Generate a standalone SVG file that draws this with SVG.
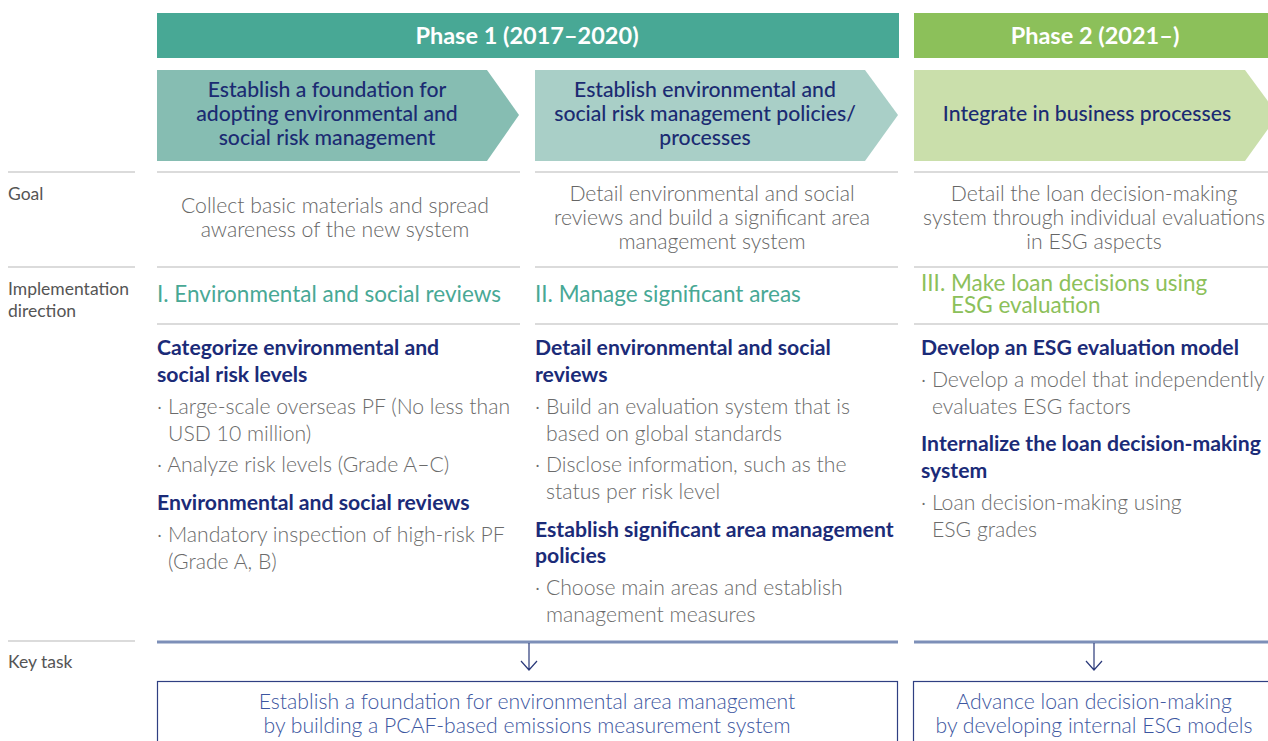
<svg xmlns="http://www.w3.org/2000/svg" width="1268" height="741" viewBox="0 0 1268 741">
<style>
text{font-family:"Lato","Liberation Sans",sans-serif}
.ph{fill:#fff;font-size:23.5px;font-weight:700;text-anchor:middle}
.ch{fill:#1b2b72;font-size:21.2px;font-weight:500;text-anchor:middle}
.lab{fill:#555;font-size:17.5px}
.goal{fill:#666;font-size:21.2px;font-weight:300;text-anchor:middle}
.dir1{fill:#48a895;font-size:22.5px}
.dir3{fill:#8cc05a;font-size:22.5px}
.hd{fill:#1b2b78;font-size:21.2px;font-weight:700}
.bl{fill:#6b6b6b;font-size:21.2px;font-weight:300}
.kt{fill:#3c56a0;font-size:21.2px;font-weight:300;text-anchor:middle}
.gl{stroke:#cfcfcf;stroke-width:1.5;fill:none}
.bx{fill:#fff;stroke:#2f3f82;stroke-width:1.2}
.ar{stroke:#2b3a7a;stroke-width:1.2;fill:none}
</style>
<rect width="1268" height="741" fill="#fff"/>

<g id="phase1">
<rect x="157" y="13" width="742" height="45" fill="#48a895"/>
<text class="ph" x="527" y="44">Phase 1 (2017–2020)</text>
</g>
<g id="phase2">
<rect x="914" y="13" width="354" height="45" fill="#8cc05a"/>
<text class="ph" x="1095" y="44">Phase 2 (2021–)</text>
</g>

<g id="stage1">
<polygon points="157,70 487,70 519,115 487,161 157,161" fill="#86bdb2"/>
<text class="ch" x="327" y="97">Establish a foundation for</text>
<text class="ch" x="327" y="121">adopting environmental and</text>
<text class="ch" x="327" y="145">social risk management</text>
</g>
<g id="stage2">
<polygon points="535,70 865,70 898,115 865,161 535,161" fill="#a9cfc7"/>
<text class="ch" x="705" y="97">Establish environmental and</text>
<text class="ch" x="705" y="121">social risk management policies/</text>
<text class="ch" x="705" y="145">processes</text>
</g>
<g id="stage3">
<polygon points="914,70 1245,70 1278,115 1245,161 914,161" fill="#cadfab"/>
<text class="ch" x="1087" y="121">Integrate in business processes</text>
</g>

<g id="gridlines">
<line class="gl" x1="8" y1="172" x2="135" y2="172"/>
<line class="gl" x1="157" y1="172" x2="520" y2="172"/>
<line class="gl" x1="535" y1="172" x2="898" y2="172"/>
<line class="gl" x1="914" y1="172" x2="1268" y2="172"/>
<line class="gl" x1="8" y1="267" x2="135" y2="267"/>
<line class="gl" x1="157" y1="267" x2="520" y2="267"/>
<line class="gl" x1="535" y1="267" x2="898" y2="267"/>
<line class="gl" x1="914" y1="267" x2="1268" y2="267"/>
<line class="gl" x1="157" y1="324" x2="520" y2="324"/>
<line class="gl" x1="535" y1="324" x2="898" y2="324"/>
<line class="gl" x1="914" y1="324" x2="1268" y2="324"/>
<line class="gl" x1="8" y1="641" x2="135" y2="641"/>
</g>

<g id="labels">
<text class="lab" x="8" y="200">Goal</text>
<text class="lab" x="8" y="295">Implementation</text>
<text class="lab" x="8" y="317">direction</text>
<text class="lab" x="8" y="668">Key task</text>
</g>

<g id="goal1">
<text class="goal" x="335" y="213">Collect basic materials and spread</text>
<text class="goal" x="335" y="237">awareness of the new system</text>
</g>
<g id="goal2">
<text class="goal" x="712" y="201">Detail environmental and social</text>
<text class="goal" x="712" y="225">reviews and build a significant area</text>
<text class="goal" x="712" y="249">management system</text>
</g>
<g id="goal3">
<text class="goal" x="1094" y="201">Detail the loan decision-making</text>
<text class="goal" x="1094" y="225">system through individual evaluations</text>
<text class="goal" x="1094" y="249">in ESG aspects</text>
</g>

<g id="direction1"><text class="dir1" x="157" y="302">I. Environmental and social reviews</text></g>
<g id="direction2"><text class="dir1" x="535" y="302">II. Manage significant areas</text></g>
<g id="direction3">
<text class="dir3" x="921" y="291">III. Make loan decisions using</text>
<text class="dir3" x="951" y="313">ESG evaluation</text>
</g>

<g id="tasks1">
<text class="hd" x="157" y="355">Categorize environmental and</text>
<text class="hd" x="157" y="382">social risk levels</text>
<text class="bl" x="157" y="414">· Large-scale overseas PF (No less than</text>
<text class="bl" x="168" y="441">USD 10 million)</text>
<text class="bl" x="157" y="472">· Analyze risk levels (Grade A–C)</text>
<text class="hd" x="157" y="510">Environmental and social reviews</text>
<text class="bl" x="157" y="542">· Mandatory inspection of high-risk PF</text>
<text class="bl" x="168" y="569">(Grade A, B)</text>
</g>
<g id="tasks2">
<text class="hd" x="535" y="355">Detail environmental and social</text>
<text class="hd" x="535" y="382">reviews</text>
<text class="bl" x="535" y="414">· Build an evaluation system that is</text>
<text class="bl" x="546" y="441">based on global standards</text>
<text class="bl" x="535" y="472">· Disclose information, such as the</text>
<text class="bl" x="546" y="499">status per risk level</text>
<text class="hd" x="535" y="537">Establish significant area management</text>
<text class="hd" x="535" y="563">policies</text>
<text class="bl" x="535" y="595">· Choose main areas and establish</text>
<text class="bl" x="546" y="622">management measures</text>
</g>
<g id="tasks3">
<text class="hd" x="921" y="355">Develop an ESG evaluation model</text>
<text class="bl" x="921" y="387">· Develop a model that independently</text>
<text class="bl" x="932" y="414">evaluates ESG factors</text>
<text class="hd" x="921" y="451">Internalize the loan decision-making</text>
<text class="hd" x="921" y="478">system</text>
<text class="bl" x="921" y="510">· Loan decision-making using</text>
<text class="bl" x="932" y="537">ESG grades</text>
</g>

<g id="connectors">
<line x1="157" y1="642" x2="898" y2="642" stroke="#7d8fb8" stroke-width="3"/>
<line x1="914" y1="642" x2="1268" y2="642" stroke="#7d8fb8" stroke-width="3"/>
<path class="ar" d="M529,643 V670 M521,661 L529,670 L537,661"/>
<path class="ar" d="M1094,643 V670 M1086,661 L1094,670 L1102,661"/>
</g>

<g id="keytask1">
<rect class="bx" x="157.5" y="681.5" width="740" height="70"/>
<text class="kt" x="527" y="709">Establish a foundation for environmental area management</text>
<text class="kt" x="527" y="733">by building a PCAF-based emissions measurement system</text>
</g>
<g id="keytask2">
<rect class="bx" x="913.5" y="681.5" width="370" height="70"/>
<text class="kt" x="1094" y="709">Advance loan decision-making</text>
<text class="kt" x="1094" y="733">by developing internal ESG models</text>
</g>
</svg>
